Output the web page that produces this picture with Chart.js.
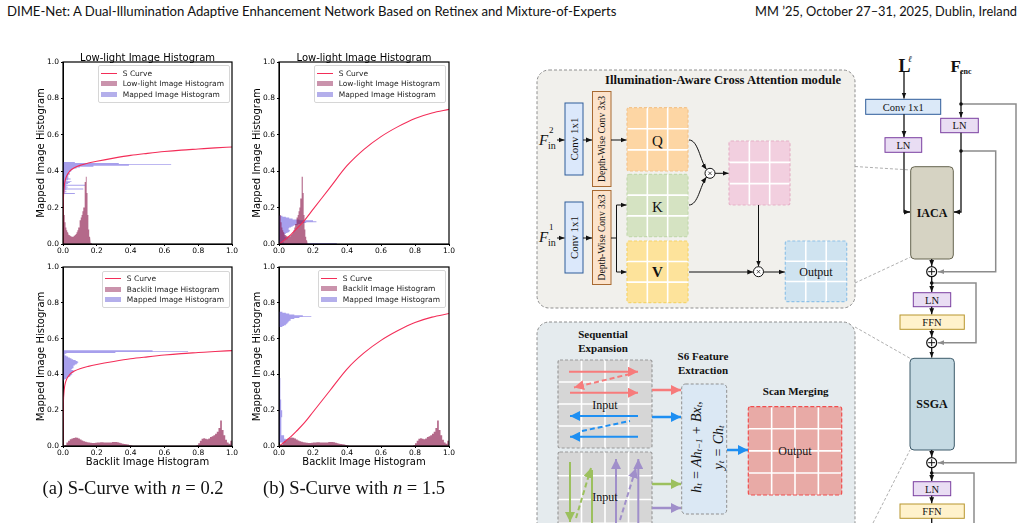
<!DOCTYPE html>
<html>
<head>
<meta charset="utf-8">
<title>S-Curve histograms</title>
<script src="https://cdn.jsdelivr.net/npm/chart.js@4.4.1/dist/chart.umd.min.js"></script>
<style>
    body { margin: 0; background: #fff; }
    #page { position: relative; width: 1025px; height: 523px; overflow: hidden; }
    #diagram { position: absolute; left: 0; top: 0; }
    .plot { position: absolute; }
    .hdr { position: absolute; top: 3px; font-family: 'Lato'; font-size: 13px; line-height: 16px; white-space: nowrap; color: #111; }
    .ptitle { position: absolute; font: 10px 'DejaVu Sans'; transform: translate(-50%, -50%); white-space: nowrap; color: #000; }
    .cap { position: absolute; font-family: 'Liberation Serif'; font-size: 18.5px; transform: translate(-50%, -50%); white-space: nowrap; color: #111; }
    .legend { position: absolute; background: rgba(255,255,255,0.85); border: 1px solid #d6d6d6; border-radius: 2px; padding: 2px 5px 2px 2px; font: 7.5px 'DejaVu Sans'; color: #222; }
    .legend .row { display: flex; align-items: center; height: 10.5px; white-space: nowrap; }
    .legend .h { width: 16px; margin-right: 6px; }
</style>
</head>
<body>
<div id="page">
<svg id="diagram" width="1025" height="523" viewBox="0 0 1025 523" font-family="Liberation Serif" fill="#111">
  <defs>
    <marker id="ak" markerUnits="userSpaceOnUse" markerWidth="6" markerHeight="6" viewBox="0 0 10 10" refX="10" refY="5" orient="auto"><path d="M0,1 L10,5 L0,9 z" fill="#111"/></marker>
    <marker id="ag" markerUnits="userSpaceOnUse" markerWidth="6" markerHeight="6" viewBox="0 0 10 10" refX="10" refY="5" orient="auto"><path d="M0,1 L10,5 L0,9 z" fill="#8c8c8c"/></marker>
    <marker id="ar" markerUnits="userSpaceOnUse" markerWidth="10" markerHeight="10" viewBox="0 0 10 10" refX="10" refY="5" orient="auto"><path d="M0,0 L10,5 L0,10 z" fill="#f77b7b"/></marker>
    <marker id="ab" markerUnits="userSpaceOnUse" markerWidth="10" markerHeight="10" viewBox="0 0 10 10" refX="10" refY="5" orient="auto"><path d="M0,0 L10,5 L0,10 z" fill="#1e8ff2"/></marker>
    <marker id="agr" markerUnits="userSpaceOnUse" markerWidth="10" markerHeight="10" viewBox="0 0 10 10" refX="10" refY="5" orient="auto"><path d="M0,0 L10,5 L0,10 z" fill="#9cc05e"/></marker>
    <marker id="apu" markerUnits="userSpaceOnUse" markerWidth="10" markerHeight="10" viewBox="0 0 10 10" refX="10" refY="5" orient="auto"><path d="M0,0 L10,5 L0,10 z" fill="#a08fca"/></marker>
  </defs>

  <!-- cross attention module -->
  <rect x="537" y="70" width="318" height="238" rx="12" fill="#f1f0ec" stroke="#8f8f8f" stroke-dasharray="3 2"/>
  <!-- scan module -->
  <rect x="537" y="322" width="318" height="240" rx="12" fill="#e5ebee" stroke="#8f8f8f" stroke-dasharray="3 2"/>

  <g id="grids"></g>

  <text x="723" y="83.5" font-weight="bold" font-size="12" text-anchor="middle" textLength="236" lengthAdjust="spacingAndGlyphs">Illumination-Aware Cross Attention module</text>

  <text x="539" y="145" font-style="italic" font-size="15">F</text>
  <text x="548" y="149" font-size="10">in</text>
  <text x="549" y="133" font-size="9">2</text>
  <text x="539" y="242" font-style="italic" font-size="15">F</text>
  <text x="548" y="246" font-size="10">in</text>
  <text x="549" y="230" font-size="9">1</text>

  <rect x="565" y="103" width="18" height="72" fill="#dbe8fb" stroke="#2e5c9a"/>
  <text transform="translate(574,139) rotate(-90)" text-anchor="middle" dominant-baseline="central" font-size="11">Conv 1x1</text>
  <rect x="565" y="202" width="18" height="71" fill="#dbe8fb" stroke="#2e5c9a"/>
  <text transform="translate(574,237.5) rotate(-90)" text-anchor="middle" dominant-baseline="central" font-size="11">Conv 1x1</text>

  <rect x="592.5" y="91.5" width="18.5" height="95" fill="#fce3cb" stroke="#a86a32"/>
  <text transform="translate(601.75,139) rotate(-90)" text-anchor="middle" dominant-baseline="central" font-size="9.5" textLength="86" lengthAdjust="spacingAndGlyphs">Depth-Wise Conv 3x3</text>
  <rect x="592.5" y="190.5" width="18.5" height="94" fill="#fce3cb" stroke="#a86a32"/>
  <text transform="translate(601.75,237.5) rotate(-90)" text-anchor="middle" dominant-baseline="central" font-size="9.5" textLength="86" lengthAdjust="spacingAndGlyphs">Depth-Wise Conv 3x3</text>

  <text x="657.5" y="145.5" font-size="15" text-anchor="middle">Q</text>
  <text x="657.5" y="211.5" font-size="15" text-anchor="middle">K</text>
  <text x="657.5" y="277" font-size="15" font-weight="bold" text-anchor="middle">V</text>
  <text x="816" y="276" font-size="12" text-anchor="middle">Output</text>

  <g stroke="#111" stroke-width="1" fill="none">
    <path d="M557,140H564.5" marker-end="url(#ak)"/>
    <path d="M583,140H592" marker-end="url(#ak)"/>
    <path d="M611,140H626.5" marker-end="url(#ak)"/>
    <path d="M557,238H564.5" marker-end="url(#ak)"/>
    <path d="M583,238H592" marker-end="url(#ak)"/>
    <path d="M611,238H616.5M616.5,205V272"/>
    <path d="M616.5,205H626.5" marker-end="url(#ak)"/>
    <path d="M616.5,272H626.5" marker-end="url(#ak)"/>
    <path d="M689,140 C698,140 700,160 706.5,169.5" marker-end="url(#ak)"/>
    <path d="M689,205 C698,205 700,186 706.5,177" marker-end="url(#ak)"/>
    <path d="M715,173.3H728.5" marker-end="url(#ak)"/>
    <path d="M758.5,205V266.5" marker-end="url(#ak)"/>
    <path d="M689,272H753.3" marker-end="url(#ak)"/>
    <path d="M763.3,272H784.8" marker-end="url(#ak)"/>
  </g>
  <g fill="#fff" stroke="#111" stroke-width="1">
    <circle cx="710" cy="173.3" r="5"/>
    <circle cx="758.5" cy="271.7" r="5"/>
  </g>
  <g stroke="#111" stroke-width="0.7">
    <path d="M708.3,171.6l3.4,3.4M711.7,171.6l-3.4,3.4"/>
    <path d="M756.8,270l3.4,3.4M760.2,270l-3.4,3.4"/>
  </g>

  <!-- scan module texts -->
  <text x="603" y="338" font-weight="bold" font-size="11" text-anchor="middle">Sequential</text>
  <text x="603" y="352" font-weight="bold" font-size="11" text-anchor="middle">Expansion</text>
  <text x="703" y="360" font-weight="bold" font-size="11" text-anchor="middle">S6 Feature</text>
  <text x="703" y="374" font-weight="bold" font-size="11" text-anchor="middle">Extraction</text>
  <text x="795.7" y="395" font-weight="bold" font-size="11" text-anchor="middle">Scan Merging</text>
  <text x="795" y="455" font-size="12" text-anchor="middle">Output</text>

  <rect x="681.7" y="384" width="45" height="130" rx="4" fill="#dbe8f4" stroke="#8f8f8f" stroke-dasharray="3 2"/>
  <text transform="translate(696,447) rotate(-90)" text-anchor="middle" dominant-baseline="central" font-style="italic" font-size="14">h<tspan font-size="9" dy="3">t</tspan><tspan dy="-3"> = Ah</tspan><tspan font-size="9" dy="3">t−1</tspan><tspan dy="-3"> + Bx</tspan><tspan font-size="9" dy="3">t</tspan><tspan dy="-3">,</tspan></text>
  <text transform="translate(718,447.5) rotate(-90)" text-anchor="middle" dominant-baseline="central" font-style="italic" font-size="14">y<tspan font-size="9" dy="3">t</tspan><tspan dy="-3"> = Ch</tspan><tspan font-size="9" dy="3">t</tspan></text>

  <g fill="none" stroke-width="2">
    <path d="M569,371.7H638" stroke="#f77b7b" marker-end="url(#ar)"/>
    <path d="M630,374 L574,387.5" stroke="#f77b7b" stroke-dasharray="5 3" marker-end="url(#ar)"/>
    <path d="M570,392.7H638" stroke="#f77b7b" marker-end="url(#ar)"/>
    <path d="M638,416H570" stroke="#1e8ff2" marker-end="url(#ab)"/>
    <path d="M582,431 L630,421" stroke="#1e8ff2" stroke-dasharray="5 3"/>
    <path d="M638,436.7H570" stroke="#1e8ff2" marker-end="url(#ab)"/>
    <path d="M570,462V522" stroke="#9cc05e" marker-end="url(#agr)"/>
    <path d="M576,518 L591,468" stroke="#9cc05e" stroke-dasharray="5 3" marker-end="url(#agr)"/>
    <path d="M592,470V530" stroke="#9cc05e"/>
    <path d="M616,530V459" stroke="#a08fca" marker-end="url(#apu)"/>
    <path d="M620,520 L636,468" stroke="#a08fca" stroke-dasharray="5 3" marker-end="url(#apu)"/>
    <path d="M638.3,530V459" stroke="#a08fca" marker-end="url(#apu)"/>
    <path d="M652,390H681" stroke="#f77b7b" stroke-width="2.5" marker-end="url(#ar)"/>
    <path d="M652,417H681" stroke="#1e8ff2" stroke-width="2.5" marker-end="url(#ab)"/>
    <path d="M652,484H681" stroke="#9cc05e" stroke-width="2.5" marker-end="url(#agr)"/>
    <path d="M652,508H681" stroke="#a08fca" stroke-width="2.5" marker-end="url(#apu)"/>
    <path d="M727,450H748" stroke="#1e8ff2" stroke-width="2.5" marker-end="url(#ab)"/>
  </g>
  <text x="605" y="409" font-size="12" text-anchor="middle">Input</text>
  <text x="605" y="501" font-size="12" text-anchor="middle">Input</text>

  <!-- right column -->
  <g fill="none" stroke="#9a9a9a" stroke-width="0.8" stroke-dasharray="3 2">
    <path d="M855,166.5 L910.7,170"/>
    <path d="M855,283 L910.7,257"/>
    <path d="M855,327 L910,358.3"/>
    <path d="M873,523 L910,450"/>
  </g>
  <g fill="none" stroke="#8c8c8c" stroke-width="1.5">
    <path d="M961,104H1016V462.7H938" marker-end="url(#ag)"/>
    <path d="M961,151H995.7V271.7H938" marker-end="url(#ag)"/>
    <path d="M931.7,283H976V342.7H938" marker-end="url(#ag)"/>
    <path d="M931.7,473H974V523"/>
  </g>
  <rect x="865.7" y="99.3" width="75" height="15" fill="#dbe9f8" stroke="#2e5c9a"/>
  <text x="903.2" y="110.5" font-size="10.5" text-anchor="middle">Conv 1x1</text>
  <rect x="940.7" y="118.3" width="37.6" height="14.4" fill="#e9ddf3" stroke="#7a3fa0"/>
  <text x="959.5" y="129.3" font-size="10.5" text-anchor="middle">LN</text>
  <rect x="885" y="137.7" width="36.7" height="14.6" fill="#e9ddf3" stroke="#7a3fa0"/>
  <text x="903.4" y="148.8" font-size="10.5" text-anchor="middle">LN</text>
  <rect x="910.7" y="166.7" width="42.6" height="92.3" rx="4" fill="#d6d3c3" stroke="#66644f"/>
  <text x="932" y="216.5" font-size="12" font-weight="bold" text-anchor="middle">IACA</text>
  <rect x="913.3" y="292.7" width="37.4" height="14" fill="#e9ddf3" stroke="#7a3fa0"/>
  <text x="932" y="303.5" font-size="10.5" text-anchor="middle">LN</text>
  <rect x="900" y="315" width="64.3" height="14.3" fill="#fff2cc" stroke="#b8962e"/>
  <text x="932" y="326" font-size="10.5" text-anchor="middle">FFN</text>
  <rect x="910" y="358.3" width="44.3" height="91.7" rx="4" fill="#c5dae3" stroke="#3d5a6a"/>
  <text x="932" y="408" font-size="12" font-weight="bold" text-anchor="middle">SSGA</text>
  <rect x="913.3" y="481.7" width="37.4" height="14" fill="#e9ddf3" stroke="#7a3fa0"/>
  <text x="932" y="492.5" font-size="10.5" text-anchor="middle">LN</text>
  <rect x="900" y="504" width="64.3" height="14.3" fill="#fff2cc" stroke="#b8962e"/>
  <text x="932" y="515" font-size="10.5" text-anchor="middle">FFN</text>

  <g fill="none" stroke="#111" stroke-width="1.3">
    <path d="M904,72V98.5" marker-end="url(#ak)"/>
    <path d="M904,114.3V137" marker-end="url(#ak)"/>
    <path d="M904,152.3V212H910" marker-end="url(#ak)"/>
    <path d="M961,72V117.5" marker-end="url(#ak)"/>
    <path d="M961,132.7V212H954" marker-end="url(#ak)"/>
    <path d="M931.7,259V266" marker-end="url(#ak)"/>
    <path d="M931.7,276.7V292" marker-end="url(#ak)"/>
    <path d="M931.7,306.7V314.3" marker-end="url(#ak)"/>
    <path d="M931.7,329.3V337" marker-end="url(#ak)"/>
    <path d="M931.7,347.7V357.6" marker-end="url(#ak)"/>
    <path d="M931.7,450V457" marker-end="url(#ak)"/>
    <path d="M931.7,467.7V481" marker-end="url(#ak)"/>
    <path d="M931.7,495.7V503.3" marker-end="url(#ak)"/>
    <path d="M931.7,518.3V523"/>
  </g>
  <g fill="#fff" stroke="#111" stroke-width="1.2">
    <circle cx="931.7" cy="271.7" r="5"/>
    <circle cx="931.7" cy="342.7" r="5"/>
    <circle cx="931.7" cy="462.7" r="5"/>
  </g>
  <g stroke="#111" stroke-width="1">
    <path d="M928.2,271.7h7M931.7,268.2v7"/>
    <path d="M928.2,342.7h7M931.7,339.2v7"/>
    <path d="M928.2,462.7h7M931.7,459.2v7"/>
  </g>
  <g fill="#111">
    <circle cx="961" cy="104" r="1.8"/>
    <circle cx="961" cy="151" r="1.8"/>
    <circle cx="931.7" cy="283" r="1.8"/>
    <circle cx="931.7" cy="473" r="1.8"/>
  </g>
  <text x="898.5" y="72" font-size="18" font-weight="bold">L</text>
  <text x="908" y="62" font-size="9" font-style="italic">ℓ</text>
  <text x="950.5" y="72" font-size="17" font-weight="bold">F</text>
  <text x="960" y="74" font-size="8" font-weight="bold">enc</text>
</svg>

<div id="hdrL" class="hdr" style="left:7px">DIME-Net: A Dual-Illumination Adaptive Enhancement Network Based on Retinex and Mixture-of-Experts</div>
<div id="hdrR" class="hdr" style="right:8px">MM ’25, October 27–31, 2025, Dublin, Ireland</div>

<canvas id="p1" class="plot" width="205" height="208" style="left:35px;top:50px"></canvas>
<canvas id="p2" class="plot" width="206" height="208" style="left:251px;top:50px"></canvas>
<canvas id="p3" class="plot" width="205" height="211" style="left:35px;top:257px"></canvas>
<canvas id="p4" class="plot" width="206" height="211" style="left:251px;top:257px"></canvas>

<div class="ptitle" style="left:147.5px;top:56.5px">Low-light Image Histogram</div>
<div class="ptitle" style="left:364px;top:56.5px">Low-light Image Histogram</div>

<div class="cap" style="left:133px;top:488px">(a) S-Curve with <i>n</i> = 0.2</div>
<div class="cap" style="left:354px;top:488px">(b) S-Curve with <i>n</i> = 1.5</div>
</div>

<script>
// axis ticks shared by every panel
const axisTicks = [0, 0.2, 0.4, 0.6, 0.8, 1.0];

// S curves
const curveX   = [0, 0.002, 0.005, 0.01, 0.02, 0.04, 0.07, 0.1, 0.15, 0.2, 0.3, 0.4, 0.5, 0.6, 0.7, 0.8, 0.9, 1.0];
const curveN02 = [0, 0.22, 0.29, 0.335, 0.37, 0.40, 0.42, 0.432, 0.445, 0.455, 0.472, 0.487, 0.498, 0.508, 0.516, 0.522, 0.528, 0.533];
const curveN15 = [0, 0.001, 0.003, 0.006, 0.013, 0.028, 0.052, 0.08, 0.13, 0.19, 0.31, 0.43, 0.52, 0.59, 0.645, 0.69, 0.72, 0.74];

// low-light input histogram (bins along x)
const lowLightStart = 0;
const lowLightBin = 0.005;
const lowLightHist = [0.23, 0.16, 0.12, 0.09, 0.075, 0.065, 0.058, 0.05, 0.045, 0.042, 0.04, 0.04, 0.042, 0.045, 0.05, 0.055, 0.065, 0.075,
    0.09, 0.11, 0.13, 0.145, 0.16, 0.18, 0.2, 0.25, 0.34, 0.37, 0.28, 0.16, 0.08, 0.04, 0.02, 0.005];

// mapped histograms of the low-light image (bins along y)
const lowMappedN02Start = 0.27;
const lowMappedN02Bin = 0.005;
const lowMappedN02 = [0.0, 0.07, 0.01, 0.02, 0.01, 0.02, 0.12, 0.02, 0.03, 0.02, 0.13, 0.02, 0.03, 0.04, 0.05, 0.02, 0.03, 0.045,
    0.03, 0.03, 0.035, 0.03, 0.04, 0.04, 0.035, 0.045, 0.05, 0.05, 0.06, 0.08, 0.1, 0.18, 0.39, 0.64, 0.33, 0.07];

const lowMappedN15Start = 0;
const lowMappedN15Bin = 0.005;
const lowMappedN15 = [0.34, 0.03, 0.02, 0.03, 0.04, 0.05, 0.05, 0.04, 0.035, 0.03, 0.035, 0.04, 0.05, 0.06, 0.065, 0.06, 0.055, 0.06,
    0.07, 0.08, 0.09, 0.11, 0.13, 0.16, 0.22, 0.2, 0.12, 0.08, 0.06, 0.04, 0.02];

// backlit input histogram (bins along x)
const backlitStart = 0;
const backlitBin = 0.01;
const backlitHist = [0.002, 0.005, 0.02, 0.03, 0.038, 0.042, 0.045, 0.047, 0.046, 0.042, 0.036, 0.031, 0.027, 0.024, 0.021, 0.02,
    0.018, 0.017, 0.017, 0.018, 0.019, 0.02, 0.021, 0.021, 0.02, 0.02, 0.019, 0.019, 0.02, 0.022, 0.023, 0.023, 0.021, 0.018,
    0.015, 0.013, 0.011, 0.01, 0.008, 0.006, 0.004, 0.002, 0.001,
    0.001, 0.001, 0.001, 0.001, 0.001, 0.001, 0.001, 0.001, 0.001, 0.001, 0.001, 0.001, 0.001, 0.001, 0.001, 0.001, 0.001, 0.001,
    0.001, 0.001, 0.001, 0.001, 0.001, 0.001, 0.001, 0.001, 0.001, 0.001, 0.001, 0.001, 0.001, 0.001, 0.001, 0.001, 0.001, 0.001,
    0.005, 0.015, 0.03, 0.04, 0.043, 0.04, 0.038, 0.042, 0.05, 0.055, 0.06, 0.068, 0.08, 0.1, 0.143, 0.09, 0.06, 0.035, 0.02, 0.012, 0.03];

// mapped histograms of the backlit image (bins along y)
const backMappedN02Start = 0.365;
const backMappedN02Bin = 0.005;
const backMappedN02 = [0.005, 0.01, 0.02, 0.03, 0.04, 0.045, 0.05, 0.055, 0.05, 0.06, 0.065, 0.06, 0.05, 0.055, 0.06, 0.065, 0.06,
    0.07, 0.08, 0.085, 0.09, 0.085, 0.075, 0.06, 0.05, 0.04, 0.03, 0.02, 0.01, 0.01, 0.02, 0.31, 0.74, 0.53];

const backMappedN15LowStart = 0;
const backMappedN15LowBin = 0.02;
const backMappedN15Low = [0.0, 0.04, 0.03, 0.015, 0.012, 0.012, 0.015, 0.015, 0.02, 0.018, 0.015, 0.012, 0.012, 0.01, 0.01, 0.008,
    0.008, 0.007, 0.006, 0.005, 0.004, 0.004, 0.003];
const backMappedN15HighStart = 0.665;
const backMappedN15HighBin = 0.005;
const backMappedN15High = [0.02, 0.03, 0.04, 0.045, 0.05, 0.055, 0.06, 0.065, 0.07, 0.09, 0.12, 0.19, 0.14, 0.09, 0.06, 0.04, 0.02];

const RED = 'rgb(243, 45, 88)';
const MAROON = 'rgba(140, 25, 75, 0.65)';
const MAROON_LEG = 'rgba(150, 40, 90, 0.5)';
const BLUE = 'rgba(95, 80, 220, 0.55)';
const BLUE_LEG = 'rgba(105, 95, 215, 0.5)';

// outline of a histogram whose bars stand on the x axis
function columnShape(start, bin, heights) {
    const pts = [{ x: start, y: 0 }];
    heights.forEach((h, i) => {
        pts.push({ x: start + i * bin, y: h });
        pts.push({ x: start + (i + 1) * bin, y: h });
    });
    pts.push({ x: start + heights.length * bin, y: 0 });
    return pts;
}

// outline of a histogram whose bars grow from the y axis
function rowShape(start, bin, widths) {
    const pts = [{ x: 0, y: start }];
    widths.forEach((w, i) => {
        pts.push({ x: w, y: start + i * bin });
        pts.push({ x: w, y: start + (i + 1) * bin });
    });
    pts.push({ x: 0, y: start + widths.length * bin });
    return pts;
}

const framePlugin = {
    id: 'frame',
    afterDraw(chart) {
        const { ctx, chartArea: a } = chart;
        ctx.save();
        ctx.strokeStyle = '#000';
        ctx.lineWidth = 1.2;
        ctx.strokeRect(a.left, a.top, a.right - a.left, a.bottom - a.top);
        ctx.restore();
    }
};

Chart.defaults.font.family = 'DejaVu Sans';
Chart.defaults.color = '#000';

function histSet(label, points, color) {
    return {
        label: label,
        data: points,
        backgroundColor: color,
        borderColor: 'rgba(0,0,0,0)',
        borderWidth: 1,
        pointRadius: 0,
        tension: 0,
        fill: 'shape'
    };
}

function makePlot(id, cfg) {
    const datasets = [{
        label: 'S Curve',
        data: curveX.map((x, i) => ({ x: x, y: cfg.curve[i] })),
        borderColor: RED,
        borderWidth: 1.1,
        pointRadius: 0,
        cubicInterpolationMode: 'monotone',
        fill: false
    }];
    datasets.push(histSet(cfg.histLabel, cfg.hist, MAROON));
    cfg.mapped.forEach(m => datasets.push(histSet('Mapped Image Histogram', m, BLUE)));

    const tickFont = { size: 7.5 };
    new Chart(document.getElementById(id), {
        type: 'line',
        data: { datasets: datasets },
        options: {
            responsive: false,
            animation: false,
            layout: { padding: { top: cfg.padTop, right: 8, left: 0, bottom: 0 } },
            plugins: { legend: { display: false }, tooltip: { enabled: false } },
            scales: {
                x: {
                    type: 'linear', min: 0, max: 1,
                    afterBuildTicks: s => { s.ticks = axisTicks.map(v => ({ value: v })); },
                    afterFit: s => { s.height = cfg.xHeight; },
                    ticks: { font: tickFont, padding: 1, maxRotation: 0, autoSkip: false, callback: v => v.toFixed(1) },
                    grid: { drawOnChartArea: false, tickLength: 2, color: '#000' },
                    border: { color: '#000' },
                    title: { display: !!cfg.xTitle, text: cfg.xTitle || '', font: { size: 10 }, padding: 0 }
                },
                y: {
                    type: 'linear', min: 0, max: 1,
                    afterBuildTicks: s => { s.ticks = axisTicks.map(v => ({ value: v })); },
                    afterFit: s => { s.width = 28; },
                    ticks: { font: tickFont, padding: 2, autoSkip: false, callback: v => v.toFixed(1) },
                    grid: { drawOnChartArea: false, tickLength: 2, color: '#000' },
                    border: { color: '#000' },
                    title: { display: true, text: 'Mapped Image Histogram', font: { size: 10 }, padding: 0 }
                }
            }
        },
        plugins: [framePlugin]
    });
}

function addLegend(rightX, topY, histLabel) {
    const items = [
        { kind: 'line', color: RED, text: 'S Curve' },
        { kind: 'patch', color: MAROON_LEG, text: histLabel },
        { kind: 'patch', color: BLUE_LEG, text: 'Mapped Image Histogram' }
    ];
    const box = document.createElement('div');
    box.className = 'legend';
    box.style.right = (1025 - rightX) + 'px';
    box.style.top = topY + 'px';
    items.forEach(it => {
        const row = document.createElement('div');
        row.className = 'row';
        const h = document.createElement('span');
        h.className = 'h';
        h.style.background = it.color;
        h.style.height = it.kind === 'line' ? '1.4px' : '5px';
        const t = document.createElement('span');
        t.textContent = it.text;
        row.appendChild(h);
        row.appendChild(t);
        box.appendChild(row);
    });
    document.getElementById('page').appendChild(box);
}

function gridSvg(x, y, w, h, n, fill, edge, dash) {
    let s = `<rect x="${x}" y="${y}" width="${w}" height="${h}" rx="2" fill="${fill}"/>`;
    for (let i = 1; i < n; i++) {
        const gx = x + w * i / n, gy = y + h * i / n;
        s += `<line x1="${gx}" y1="${y}" x2="${gx}" y2="${y + h}" stroke="#fff" stroke-width="1.6"/>`;
        s += `<line x1="${x}" y1="${gy}" x2="${x + w}" y2="${gy}" stroke="#fff" stroke-width="1.6"/>`;
    }
    s += `<rect x="${x}" y="${y}" width="${w}" height="${h}" rx="2" fill="none" stroke="${edge}" stroke-width="1.2" stroke-dasharray="${dash}"/>`;
    return s;
}

function fitText(id, width) {
    const el = document.getElementById(id);
    const w = el.getBoundingClientRect().width;
    el.style.fontSize = (13 * width / w) + 'px';
}

document.getElementById('grids').innerHTML =
    gridSvg(627, 107.7, 61, 63.3, 3, '#fdd6a4', '#f3c48d', '3 2') +
    gridSvg(627, 174.3, 61, 62.4, 3, '#d5e3c2', '#c4d9ae', '3 2') +
    gridSvg(627, 241, 61, 61.7, 3, '#fde39b', '#f5d46a', '3 2') +
    gridSvg(729, 141, 61, 64, 3, '#f2cfdf', '#e6b2c8', '3 2') +
    gridSvg(785.3, 241, 61.4, 60.7, 3, '#cfe3f0', '#8fc2e8', '3 2') +
    gridSvg(558, 360, 94, 88, 4, '#d6d6d6', '#9a9a9a', '3 2') +
    gridSvg(558, 452, 94, 95, 4, '#d6d6d6', '#9a9a9a', '3 2') +
    gridSvg(748.3, 406.7, 93.4, 88.3, 4, '#e8aaa6', '#f04e4e', '4 2');

fitText('hdrL', 610);
fitText('hdrR', 262);

makePlot('p1', {
    curve: curveN02, padTop: 12, xHeight: 14,
    histLabel: 'Low-light Image Histogram',
    hist: columnShape(lowLightStart, lowLightBin, lowLightHist),
    mapped: [rowShape(lowMappedN02Start, lowMappedN02Bin, lowMappedN02)]
});
makePlot('p2', {
    curve: curveN15, padTop: 12, xHeight: 14,
    histLabel: 'Low-light Image Histogram',
    hist: columnShape(lowLightStart, lowLightBin, lowLightHist),
    mapped: [rowShape(lowMappedN15Start, lowMappedN15Bin, lowMappedN15)]
});
makePlot('p3', {
    curve: curveN02, padTop: 10, xHeight: 22, xTitle: 'Backlit Image Histogram',
    histLabel: 'Backlit Image Histogram',
    hist: columnShape(backlitStart, backlitBin, backlitHist),
    mapped: [rowShape(backMappedN02Start, backMappedN02Bin, backMappedN02)]
});
makePlot('p4', {
    curve: curveN15, padTop: 10, xHeight: 22, xTitle: 'Backlit Image Histogram',
    histLabel: 'Backlit Image Histogram',
    hist: columnShape(backlitStart, backlitBin, backlitHist),
    mapped: [rowShape(backMappedN15LowStart, backMappedN15LowBin, backMappedN15Low),
             rowShape(backMappedN15HighStart, backMappedN15HighBin, backMappedN15High)]
});

addLegend(230, 65, 'Low-light Image Histogram');
addLegend(446, 65, 'Low-light Image Histogram');
addLegend(230, 270.5, 'Backlit Image Histogram');
addLegend(446, 270, 'Backlit Image Histogram');
</script>
</body>
</html>
